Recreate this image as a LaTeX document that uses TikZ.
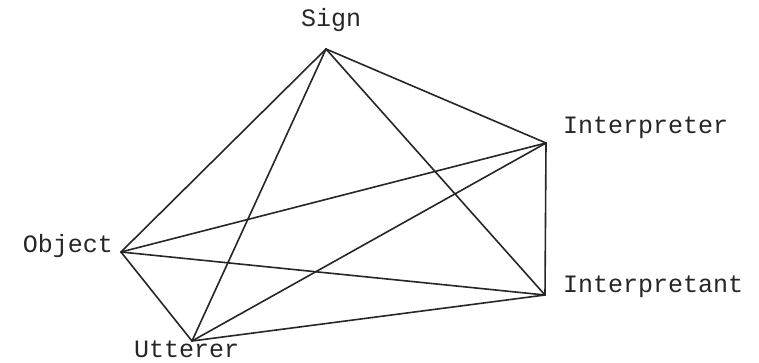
\documentclass[tikz,border=0pt]{standalone}
\usepackage{fontspec}
\setmonofont{Liberation Mono}
\begin{document}
\begin{tikzpicture}[x=1pt,y=1pt,
  edge/.style={draw=black!85,line width=1.6pt,line cap=round,line join=round},
  lbl/.style={inner sep=0pt,font=\ttfamily\fontsize{25}{27}\selectfont,text=black!85}]
\useasboundingbox (0,0) rectangle (759,363);
\coordinate (S) at (326,314);
\coordinate (Ir) at (546,220);
\coordinate (It) at (545,68);
\coordinate (O) at (121,111);
\coordinate (U) at (192,22);
\node[lbl,anchor=base west] (sl) at (301,336) {Sign};
\node[lbl,anchor=base west] (irl) at (563,229) {Interpreter};
\node[lbl,anchor=base west] (itl) at (563,70) {Interpretant};
\node[lbl,anchor=base east] (ol) at (113,110) {Object};
\node[lbl,anchor=base west] (ul) at (134,5.5) {Utterer};
\draw[edge] (S) -- (O);
\draw[edge] (S) -- (U);
\draw[edge] (S) -- (Ir);
\draw[edge] (S) -- (It);
\draw[edge] (Ir) -- (O);
\draw[edge] (Ir) -- (U);
\draw[edge] (Ir) -- (It);
\draw[edge] (O) -- (It);
\draw[edge] (O) -- (U);
\draw[edge] (U) -- (It);
\end{tikzpicture}
\end{document}
